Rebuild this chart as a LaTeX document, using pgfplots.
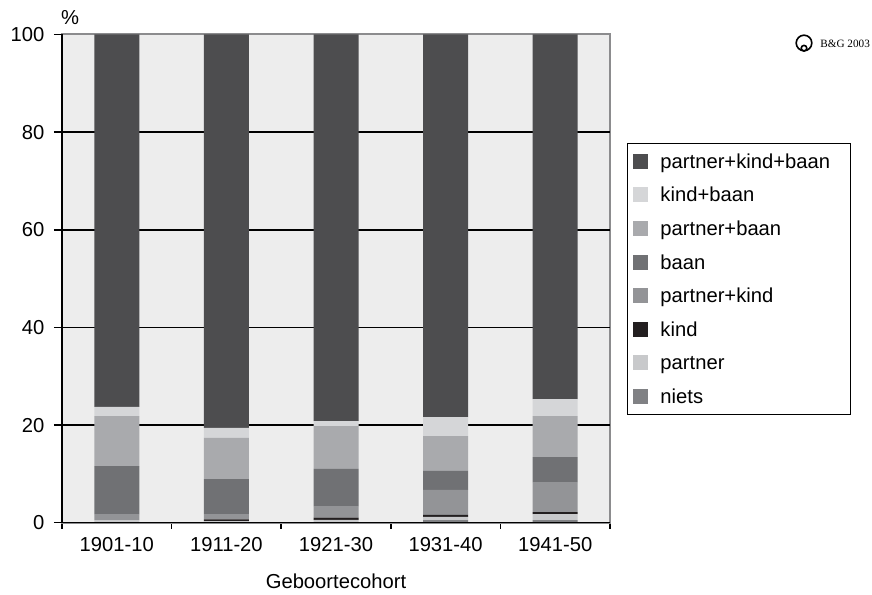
\documentclass[border=0pt]{standalone}
\usepackage{fontspec}
\setmainfont{Liberation Sans}
\newfontfamily\seriffont{Liberation Serif}
\usepackage{pgfplots}
\pgfplotsset{compat=1.18}
\definecolor{cTop}{HTML}{4D4D4F}
\definecolor{cKB}{HTML}{D5D6D8}
\definecolor{cPB}{HTML}{A9AAAD}
\definecolor{cB}{HTML}{707174}
\definecolor{cPK}{HTML}{939497}
\definecolor{cK}{HTML}{231F20}
\definecolor{cP}{HTML}{C8C9CB}
\definecolor{cN}{HTML}{808184}
\definecolor{bgcol}{HTML}{EDEDED}
\definecolor{frame}{HTML}{8C8C8E}
\begin{document}
\begin{tikzpicture}[font=\fontsize{10.1bp}{12bp}\selectfont]
\path[use as bounding box] (0,0) rectangle (436bp,297.5bp);
\begin{axis}[
  at={(31bp,36.15bp)}, anchor=south west,
  scale only axis, width=274bp, height=244.1bp,
  ybar stacked, bar width=22.5bp,
  xmin=-0.5, xmax=4.5, ymin=0, ymax=100,
  xtick={0,1,2,3,4},
  xticklabels={1901-10,1911-20,1921-30,1931-40,1941-50},
  minor xtick={-0.5,0.5,1.5,2.5,3.5,4.5},
  ytick={0,20,40,60,80,100},
  xtick pos=bottom, ytick pos=left,
  extra y ticks={20,40,60,80},
  extra y tick labels={},
  extra y tick style={grid=major, major tick length=0pt},
  grid style={black, line width=0.75bp},
  /pgf/number format/assume math mode=true,
  axis background/.style={fill=bgcol},
  axis line style={draw=frame, line width=1bp},
  tick align=outside,
  major tick length=4bp,
  minor tick length=3bp,
  major x tick style={draw=none},
  minor x tick style={black, line width=0.75bp},
  major y tick style={black, line width=0.75bp},
  xticklabel style={yshift=0bp},
  yticklabel style={xshift=-1.3bp},
  xlabel={Geboortecohort},
  xlabel style={at={(0.5,0)}, anchor=center, yshift=-29.5bp},
  legend style={at={(1.031,0.7777)}, anchor=north west, draw=black, line width=0.5bp,
    inner xsep=3bp, inner ysep=0.5bp,
    nodes={inner ysep=0pt, inner xsep=3bp, text height=11.9bp, text depth=4.9bp},
    /tikz/every odd column/.append style={column sep=3bp},
    /tikz/every even column/.append style={nodes={text width=89bp}}},
  legend cell align=left,
  reverse legend,
  legend image code/.code={\fill[#1] (0bp,-3.75bp) rectangle (7.5bp,3.75bp);},
  after end axis/.code={
    \draw[black, line width=0.75bp] (rel axis cs:0,1) -- (rel axis cs:0,0) -- (rel axis cs:1,0);
  },
]
\addplot[fill=cN, draw=none] coordinates {(0,0) (1,0.1) (2,0.1) (3,0.55) (4,0.55)};
\addlegendentry{niets}
\addplot[fill=cP, draw=none] coordinates {(0,0.55) (1,0.2) (2,0.5) (3,0.62) (4,1.23)};
\addlegendentry{partner}
\addplot[fill=cK, draw=none] coordinates {(0,0) (1,0.4) (2,0.43) (3,0.41) (4,0.41)};
\addlegendentry{kind}
\addplot[fill=cPK, draw=none] coordinates {(0,1.23) (1,1.08) (2,2.39) (3,5.12) (4,6.14)};
\addlegendentry{partner+kind}
\addplot[fill=cB, draw=none] coordinates {(0,9.82) (1,7.17) (2,7.58) (3,3.9) (4,5.12)};
\addlegendentry{baan}
\addplot[fill=cPB, draw=none] coordinates {(0,10.24) (1,8.4) (2,8.8) (3,7.15) (4,8.4)};
\addlegendentry{partner+baan}
\addplot[fill=cKB, draw=none] coordinates {(0,1.91) (1,2.05) (2,1.0) (3,3.85) (4,3.45)};
\addlegendentry{kind+baan}
\addplot[fill=cTop, draw=none] coordinates {(0,76.25) (1,80.6) (2,79.2) (3,78.4) (4,74.7)};
\addlegendentry{partner+kind+baan}
\end{axis}
\node at (35bp,288.5bp) {\%};
\draw[line width=0.8bp] (402bp,276bp) circle (3.9bp);
\draw[line width=0.8bp] (402bp,273.4bp) circle (1.4bp);
\node[anchor=west, inner sep=0pt, font=\seriffont\fontsize{5.6bp}{6bp}\selectfont] at (410bp,275.5bp) {B\&G 2003};
\end{tikzpicture}
\end{document}
